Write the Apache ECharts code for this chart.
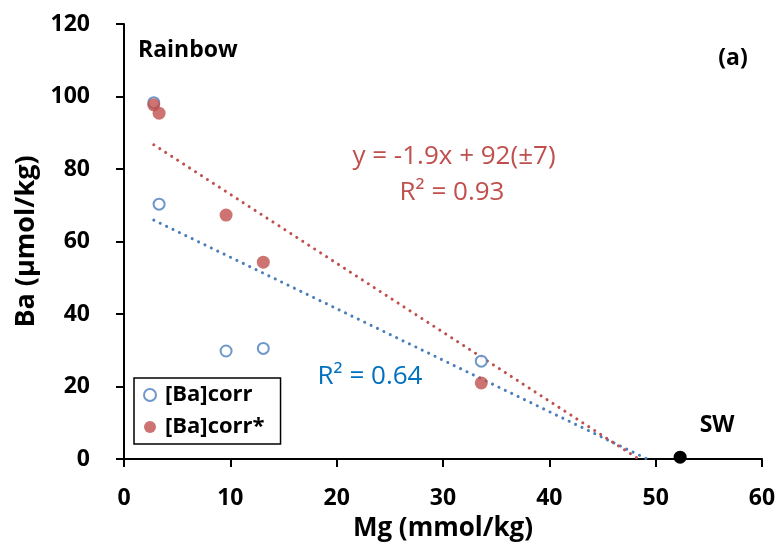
<!DOCTYPE html>
<html>
<head>
<meta charset="utf-8">
<script src="https://cdn.jsdelivr.net/npm/echarts@6/dist/echarts.min.js"></script>
<style>
  html, body { margin: 0; padding: 0; background: #fff; }
  #chart { width: 781px; height: 550px; }
</style>
</head>
<body>
<div id="chart"></div>
<script>
// Mg (mmol/kg) of each sample
const mgValues = [2.8, 3.3, 9.6, 13.1, 33.6];
// Ba values
const baCorr = [98.3, 70.3, 29.8, 30.5, 27.0];
const baCorrStar = [97.7, 95.4, 67.3, 54.3, 21.0];
// seawater end member
const swPoint = [52.3, 0.5];
// trend line end points (clipped at y = 0)
const redTrend = [[2.8, 86.7], [48.4, 0]];
const blueTrend = [[2.8, 65.9], [49.2, 0]];
const xTicks = [0, 60, 10];
const yTicks = [0, 120, 20];

const FONT = "'Open Sans', sans-serif";
const RED = "#c0504d";
const BLUE = "#4a7ebb";

const chart = echarts.init(document.getElementById("chart"));

const options = {
  animation: false,
  grid: { left: 124, right: 19, top: 24, bottom: 91 },
  xAxis: {
    type: "value",
    min: xTicks[0],
    max: xTicks[1],
    interval: xTicks[2],
    name: "Mg (mmol/kg)",
    nameLocation: "middle",
    nameGap: 57,
    nameTextStyle: { fontFamily: FONT, fontWeight: "bold", fontSize: 26, color: "#000" },
    axisLine: { lineStyle: { color: "#000", width: 2 } },
    axisTick: { show: true, inside: false, length: 8, lineStyle: { color: "#000", width: 2 } },
    axisLabel: { fontFamily: FONT, fontWeight: "bold", fontSize: 23, color: "#000", margin: 28 },
    splitLine: { show: false },
  },
  yAxis: {
    type: "value",
    min: yTicks[0],
    max: yTicks[1],
    interval: yTicks[2],
    name: "Ba (µmol/kg)",
    nameLocation: "middle",
    nameGap: 80,
    nameRotate: 90,
    nameTextStyle: { fontFamily: FONT, fontWeight: "bold", fontSize: 27, color: "#000" },
    axisLine: { show: true, lineStyle: { color: "#000", width: 2 } },
    axisTick: { show: true, inside: false, length: 8, lineStyle: { color: "#000", width: 2 } },
    axisLabel: { fontFamily: FONT, fontWeight: "bold", fontSize: 23, color: "#000", margin: 34 },
    splitLine: { show: false },
  },
  legend: {
    data: ["[Ba]corr", "[Ba]corr*"],
    orient: "vertical",
    left: 134,
    top: 378,
    padding: [4, 16, 4, 9],
    itemGap: 6,
    itemWidth: 20,
    itemHeight: 12,
    borderColor: "#000",
    borderWidth: 1.5,
    borderRadius: 0,
    backgroundColor: "#fff",
    textStyle: { fontFamily: FONT, fontWeight: "bold", fontSize: 22, lineHeight: 26, color: "#000" },
  },
  series: [
    {
      name: "blueTrend",
      type: "line",
      data: blueTrend,
      showSymbol: false,
      symbol: "none",
      silent: true,
      lineStyle: { color: BLUE, width: 3, type: [0.1, 7], cap: "round" },
      z: 1,
    },
    {
      name: "redTrend",
      type: "line",
      data: redTrend,
      showSymbol: false,
      symbol: "none",
      silent: true,
      lineStyle: { color: RED, width: 3, type: [0.1, 7], cap: "round" },
      z: 1,
    },
    {
      name: "[Ba]corr",
      type: "scatter",
      data: mgValues.map((x, i) => [x, baCorr[i]]),
      symbol: "circle",
      symbolSize: 11,
      itemStyle: { color: "#fff", borderColor: BLUE, borderWidth: 2 },
      z: 3,
    },
    {
      name: "[Ba]corr*",
      type: "scatter",
      data: mgValues.map((x, i) => [x, baCorrStar[i]]),
      symbol: "circle",
      symbolSize: 13,
      itemStyle: { color: RED },
      z: 4,
    },
    {
      name: "SW",
      type: "scatter",
      data: [swPoint],
      symbol: "circle",
      symbolSize: 13,
      itemStyle: { color: "#000", opacity: 1 },
      label: {
        show: true,
        formatter: "SW",
        position: "top",
        distance: 14,
        offset: [37, 0],
        fontFamily: FONT,
        fontWeight: "bold",
        fontSize: 23,
        color: "#000",
      },
      z: 5,
    },
  ],
  graphic: [
    {
      type: "text",
      x: 138,
      y: 50,
      style: { text: "Rainbow", fontFamily: FONT, fontWeight: "bold", fontSize: 23, fill: "#000", verticalAlign: "middle" },
    },
    {
      type: "text",
      x: 733,
      y: 58,
      style: { text: "(a)", fontFamily: FONT, fontWeight: "bold", fontSize: 23, fill: "#000", align: "center", verticalAlign: "middle" },
    },
    {
      type: "text",
      x: 454,
      y: 157,
      style: {
        text: "y = -1.9x + 92(±7)",
        fontFamily: FONT,
        fontSize: 26,
        fill: RED,
        align: "center",
        verticalAlign: "middle",
      },
    },
    {
      type: "text",
      x: 452,
      y: 193,
      style: {
        text: "R² = 0.93",
        fontFamily: FONT,
        fontSize: 26,
        fill: RED,
        align: "center",
        verticalAlign: "middle",
      },
    },
    {
      type: "text",
      x: 370,
      y: 377,
      style: {
        text: "R² = 0.64",
        fontFamily: FONT,
        fontSize: 26,
        fill: "#0070c0",
        align: "center",
        verticalAlign: "middle",
      },
    },
  ],
};

options && chart.setOption(options);
</script>
</body>
</html>
